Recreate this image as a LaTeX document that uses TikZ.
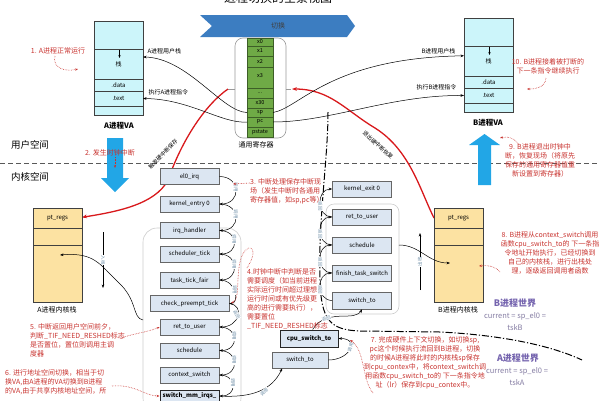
\documentclass[tikz,border=0pt]{standalone}
\usepackage{fontspec}
\setmainfont{Noto Sans CJK SC}
\usetikzlibrary{arrows.meta}

\definecolor{vacyan}{HTML}{CCF5FA}
\definecolor{kyellow}{HTML}{FCE2A2}
\definecolor{reggreen}{HTML}{6FAA46}
\definecolor{boxfill}{HTML}{DCE6F2}
\definecolor{notered}{HTML}{C8332F}
\definecolor{hotred}{HTML}{D8191C}
\definecolor{calltxt}{HTML}{6F8FA8}
\definecolor{bannerblue}{HTML}{3C7DC1}
\definecolor{bigblue}{HTML}{22A6E6}
\definecolor{worldpurple}{HTML}{7463AE}
\definecolor{worldgray}{HTML}{857DA3}

\begin{document}
\begin{tikzpicture}[x=1pt, y=-1pt, font=\fontsize{6}{7}\selectfont,
    vacell/.style={rectangle, draw=black!75, fill=vacyan, line width=0.6pt, minimum width=49pt, inner sep=0pt, outer sep=0pt},
    regcell/.style={rectangle, draw=reggreen!55!black, fill=reggreen, line width=0.4pt, minimum width=26pt, inner sep=0pt, outer sep=0pt, font=\fontsize{5.5}{6}\selectfont},
    kcell/.style={rectangle, draw=black!75, fill=kyellow, line width=0.6pt, minimum width=49pt, inner sep=0pt, outer sep=0pt},
    box/.style={rectangle, draw=black!60, fill=boxfill, line width=0.6pt, minimum width=59pt, minimum height=16pt, inner sep=0pt},
    keybox/.style={box, draw=black!85, line width=1pt, font=\fontsize{6}{7}\selectfont\bfseries},
    note/.style={text=notered, align=left, inner sep=0pt, font=\fontsize{7}{9}\selectfont},
    call/.style={-{Stealth[length=3.5pt]}, black, line width=0.5pt},
    calltext/.style={text=calltxt, font=\fontsize{4.5}{5}\selectfont, inner sep=0.5pt, fill=white},
    hotline/.style={draw=hotred, line width=1.3pt},
    dotarrow/.style={-{Stealth[length=3pt]}, notered, densely dotted, line width=0.6pt},
    vatitle/.style={font=\fontsize{7.5}{9}\selectfont\bfseries},
    world/.style={text=worldpurple, font=\fontsize{9}{10}\selectfont\bfseries},
    worldtext/.style={text=worldgray, align=center, font=\fontsize{7.5}{11.5}\selectfont}
  ]
  \useasboundingbox (0,0) rectangle (600,400);

  % Title and switch banner
  \node[font=\fontsize{12}{14}\selectfont] (title) at (278,-2) {进程切换的全景视图};
  \fill[bannerblue] (200,15) -- (347,15) -- (355,26) -- (347,37) -- (200,37) -- (212,26) -- cycle;
  \node[text=black!75, font=\fontsize{7}{8}\selectfont] (switch) at (278,26) {切换};

  % User / kernel split
  \draw[black!65, line width=0.8pt, dash pattern=on 5pt off 3pt] (0,163) -- (600,163);
  \node[font=\fontsize{9.5}{11}\selectfont] (uspace) at (30,145) {用户空间};
  \node[font=\fontsize{9.5}{11}\selectfont] (kspace) at (30,177) {内核空间};

  % Big blue arrows
  \fill[bigblue] (107,138) -- (123,138) -- (123,178) -- (129,178) -- (115,192) -- (101,178) -- (107,178) -- cycle;
  \fill[bigblue] (478,185) -- (491,185) -- (491,145) -- (500,145) -- (484.5,134) -- (469,145) -- (478,145) -- cycle;

  % Group outlines
  \draw[black!20, line width=0.6pt, rounded corners=14pt] (143,228) rectangle (241,412);
  \draw[black!20, line width=0.6pt, rounded corners=8pt] (326,204) rectangle (399,314);
  \draw[black!40, line width=0.6pt, rounded corners=8pt] (235,38) rectangle (286,138);
  \draw[black!40, line width=0.6pt] (228,89) -- (235,89) (286,89) -- (291,89);

  % Phase boundary
  \draw[black, line width=1pt, dash pattern=on 7pt off 2pt on 1.2pt off 2pt]
    (328,112) .. controls (328,160) and (318,220) .. (320,280) .. controls (321,320) and (330,330) .. (360,331)
    -- (440,332) .. controls (500,335) and (550,345) .. (582,360);

  % Hot red paths (save / restore context)
  \draw[hotline] (228,89) .. controls (205,105) and (182,140) .. (168,180) .. controls (155,205) and (115,212) .. (84,217);
  \draw[hotred, line width=1.3pt, -{Stealth[length=5pt]}] (84,217) -- (82,217.5);
  \draw[hotline, -{Stealth[length=5pt]}] (434,218) .. controls (420,190) and (410,150) .. (375,128) .. controls (345,110) and (330,89) .. (292,89);
  \node[rotate=45, font=\fontsize{5.5}{6}\selectfont, inner sep=0pt] (savelbl) at (163,154) {触发硬中断保存};
  \node[rotate=-42, font=\fontsize{5.5}{6}\selectfont, inner sep=0pt] (restlbl) at (378,145) {退出硬中断恢复};

  % A process VA
  \node[vacell, minimum height=28pt] (atop) at (118.5,35) {};
  \node[vacell, minimum height=30pt] (astk) at (118.5,64) {};
  \node[vacell, minimum height=12pt] (adat) at (118.5,85) {.data};
  \node[vacell, minimum height=15pt] (atxt) at (118.5,98.5) {.text};
  \node[vacell, minimum height=9pt] (abot) at (118.5,110.5) {};
  \draw[-{Stealth[length=3pt]}] (119.5,50) -- (119.5,58);
  \node (astklbl) at (118.5,64) {\raisebox{-6pt}{栈}};
  \node[vatitle] (ava) at (119,126) {A进程VA};
  \node[anchor=west] (austk) at (144,51) {A进程用户栈};
  \node[anchor=west] (aexec) at (145,92) {执行A进程指令};

  % B process VA
  \node[vacell, minimum height=28pt] (btop) at (488.5,32) {};
  \node[vacell, minimum height=30pt] (bstk) at (488.5,61) {};
  \node[vacell, minimum height=12pt] (bdat) at (488.5,82) {.data};
  \node[vacell, minimum height=15pt] (btxt) at (488.5,95.5) {.text};
  \node[vacell, minimum height=9pt] (bbot) at (488.5,107.5) {};
  \draw[-{Stealth[length=3pt]}] (489.5,47) -- (489.5,55);
  \node (bstklbl) at (488.5,61) {\raisebox{-6pt}{栈}};
  \node[vatitle] (bva) at (488,123) {B进程VA};
  \node[anchor=east] (bustk) at (459,51) {B进程用户栈};
  \node[anchor=east] (bexec) at (460,87) {执行B进程指令};

  % General registers
  \node[regcell, minimum height=8pt] (x0) at (260,42) {x0};
  \node[regcell, minimum height=10pt] (x1) at (260,51) {x1};
  \node[regcell, minimum height=11pt] (x2) at (260,61.5) {x2};
  \node[regcell, minimum height=21pt] (x3) at (260,77.5) {\raisebox{5pt}{x3}};
  \node[regcell, minimum height=10pt] (xdots) at (260,93) {...};
  \node[regcell, minimum height=10pt] (x30) at (260,103) {x30};
  \node[regcell, minimum height=9pt] (sp) at (260,112.5) {sp};
  \node[regcell, minimum height=10pt] (pc) at (260,122) {pc};
  \node[regcell, minimum height=10pt] (pstate) at (260,132) {pstate};
  \node[font=\fontsize{7}{8}\selectfont] (reglbl) at (256,145) {通用寄存器};

  % Register <-> user space
  \draw[call] (sp.west) .. controls (222,112) and (188,58) .. (astk.16);
  \draw[call] (pc.west) .. controls (222,124) and (190,99) .. (atxt.east);
  \draw[call] (sp.east) .. controls (300,108) and (330,58) .. (bstk.168);
  \draw[call] (pc.east) .. controls (330,122) and (390,95) .. (btxt.west);

  % A kernel stack
  \node[kcell, minimum height=20pt] (aregs) at (57.5,218) {pt\_regs};
  \node[kcell, minimum height=17pt] (amid) at (57.5,236.5) {};
  \node[kcell, minimum height=57pt] (alow) at (57.5,273.5) {};
  \node[font=\fontsize{7}{8}\selectfont] (aklbl) at (57,310) {A进程内核栈};
  \draw[call] (103,232) -- node[calltext, rotate=-90] {入栈} (103,288);

  % B kernel stack
  \node[kcell, minimum height=20pt] (bregs) at (458.5,218) {pt\_regs};
  \node[kcell, minimum height=17pt] (bmid) at (458.5,236.5) {};
  \node[kcell, minimum height=57pt] (blow) at (458.5,273.5) {};
  \node[font=\fontsize{7}{8}\selectfont] (bklbl) at (458,310) {B进程内核栈};
  \draw[call] (420,290) -- node[calltext, rotate=90] {出栈} (420,233);

  % Interrupt path (left column)
  \node[box] (el0) at (189.5,176.5) {el0\_irq};
  \node[box] (kentry) at (189.5,204) {kernel\_entry 0};
  \node[box] (irqh) at (189.5,230.5) {irq\_handler};
  \node[box] (stick) at (189.5,254) {scheduler\_tick};
  \node[box] (ttfair) at (189.5,280) {task\_tick\_fair};
  \node[box, minimum width=79pt] (cpt) at (189.5,303.5) {check\_preempt\_tick};
  \node[box] (aret) at (189.5,327) {ret\_to\_user};
  \node[box, minimum height=15pt] (asched) at (189.5,350.5) {schedule};
  \node[box] (actx) at (189.5,375) {context\_switch};
  \node[keybox, minimum height=12pt] (swmm) at (189.5,396) {switch\_mm\_irqs\_};

  % Switch in the middle
  \node[keybox, minimum width=58pt, minimum height=17pt] (cpusw) at (309,338.5) {cpu\_switch\_to};
  \node[box, minimum width=56pt] (aswto) at (300,360) {switch\_to};

  % Return path (right column)
  \node[box] (kexit) at (362,189) {kernel\_exit 0};
  \node[box] (bret) at (362,217) {ret\_to\_user};
  \node[box] (bsched) at (362,245) {schedule};
  \node[box] (finish) at (362,273) {finish\_task\_switch};
  \node[box, minimum height=17pt] (bswto) at (362,300.5) {switch\_to};

  % Calls, left column
  \draw[call] (el0.east) .. controls +(22,0) and +(22,0) .. node[calltext, rotate=-90, pos=0.5, xshift=-3pt] {调用} (kentry.east);
  \draw[call] (kentry.east) .. controls +(22,0) and +(22,0) .. node[calltext, rotate=-90, xshift=-3pt] {调用} (irqh.east);
  \draw[call] (irqh.east) .. controls +(20,0) and +(20,0) .. node[calltext, rotate=-90, xshift=-3pt] {调用} (stick.east);
  \draw[call] (stick.east) .. controls +(20,0) and +(20,0) .. node[calltext, rotate=-90, xshift=-3pt] {调用} (ttfair.east);
  \draw[call] (ttfair.east) .. controls +(18,0) and +(10,0) .. node[calltext, rotate=-90, xshift=-2pt] {调用} (cpt.east);
  \draw[call] (cpt.east) .. controls +(16,2) and +(20,0) .. node[calltext, rotate=-60, xshift=-2pt] {返回} (aret.east);
  \draw[call] (aret.east) .. controls +(20,0) and +(20,0) .. node[calltext, rotate=-90, xshift=-3pt] {调用} (asched.east);
  \draw[call] (asched.east) .. controls +(20,0) and +(20,0) .. node[calltext, rotate=-90, xshift=-3pt] {调用} (actx.east);
  \draw[call] (actx.east) .. controls +(18,0) and +(18,0) .. node[calltext, rotate=-90, xshift=-3pt] {调用} (swmm.east);
  \draw[call] (swmm.east) .. controls (252,398) and (272,390) .. node[calltext, rotate=40, pos=0.55, yshift=-3pt] {调用} (aswto.-155);
  \draw[call] (aswto.east) .. controls +(22,0) and +(22,0) .. node[calltext, rotate=70, xshift=2pt] {调用} (cpusw.east);
  \draw[call] (cpusw.68) .. controls (320,318) and (330,316) .. node[calltext, rotate=20] {返回} (348,316) .. controls (356,316) and (360,313) .. (bswto.south);

  % Returns, right column
  \draw[call] (bswto.west) .. controls +(-16,0) and +(-16,0) .. node[calltext, rotate=-90, xshift=3pt] {返回} (finish.west);
  \draw[call] (finish.west) .. controls +(-16,0) and +(-16,0) .. node[calltext, rotate=-90, xshift=3pt] {返回} (bsched.west);
  \draw[call] (bsched.west) .. controls +(-16,0) and +(-16,0) .. node[calltext, rotate=-90, xshift=3pt] {返回} (bret.west);
  \draw[call] (bret.west) .. controls +(-16,0) and +(-16,0) .. node[calltext, rotate=-90, xshift=3pt] {返回} (kexit.west);

  % Into / out of the kernel stacks
  \coordinate (agrp) at (143,320);
  \coordinate (bgrp) at (399,245);
  \draw[call] (agrp) .. controls (132,318) and (138,300) .. (118,282) .. controls (100,265) and (95,252) .. (60,255);
  \draw[call] (bgrp) .. controls (420,245) and (428,263) .. (450,263);

  % Notes
  \node[note] (n1) at (58,51) {1. A进程正常运行};
  \draw[dotarrow] (55,56) .. controls (52,68) and (65,72) .. (78,69);
  \node[note] (n2) at (110,153) {2. 发生时钟中断};
  \draw[dotarrow] (115,157) -- (115,168);
  \node[note, anchor=north west] (n3) at (250,178) {3. 中断处理保存中断现\\场（发生中断时各通用\\寄存器值，如sp,pc等）};
  \draw[dotarrow] (n3.north west) ++(0,5) -- (233,184);
  \node[note, anchor=north west] (n4) at (247,268) {4.时钟中断中判断是否\\需要调度（如当前进程\\实际运行时间超过理想\\运行时间或有优先级更\\高的进行需要执行），\\需要置位\\\_TIF\_NEED\_RESHED标志};
  \draw[dotarrow] (n4.north west) .. controls (262,245) and (245,240) .. (240,262) .. controls (236,280) and (240,300) .. (231,303);
  \node[note, anchor=north west] (n5) at (30,323) {5. 中断返回用户空间前夕，\\判断\_TIF\_NEED\_RESHED标志\\是否置位，置位则调用主调\\度器};
  \draw[dotarrow] (121,338) .. controls (135,333) and (145,333) .. (aret.west);
  \node[note, anchor=north west] (n6) at (5,369) {6. 进行地址空间切换，相当于切\\换VA,由A进程的VA切换到B进程\\的VA,由于共享内核地址空间，所};
  \draw[dotarrow] (112,386) .. controls (135,384) and (145,396) .. (swmm.west);
  \node[note, align=center, anchor=north] (n7) at (425,336) {7. 完成硬件上下文切换，如切换sp,\\pc这个时候执行流回到B进程，切换\\的时候A进程将此时的内核栈sp保存\\到cpu\_contex中，将context\_switch调\\用函数cpu\_switch\_to的 下一条指令地\\址（lr）保存到cpu\_contex中。};
  \draw[dotarrow] (373,393) .. controls (362,380) and (365,350) .. (350,340);
  \node[note, align=center, anchor=north] (n8) at (550,232) {8. B进程从context\_switch调用\\函数cpu\_switch\_to的 下一条指\\令地址开始执行，已经切换到\\自己的内核栈，进行出栈处\\理，逐级返回调用者函数};
  \draw[dotarrow] (500,272) .. controls (495,266) and (488,265) .. (479,266);
  \node[note, align=center, anchor=north] (n9) at (540,143) {9. B进程退出时钟中\\断，恢复现场（将原先\\保存的通用寄存器值重\\新设置到寄存器）};
  \draw[dotarrow] (519,145) .. controls (515,138) and (508,136) .. (500,138);
  \node[note, align=center, anchor=north] (n10) at (548,58) {10. B进程接着被打断的\\下一条指令继续执行};
  \draw[dotarrow] (546,78) .. controls (545,88) and (535,89) .. (527,89);

  % Worlds
  \node[world] (bworld) at (515,303) {B进程世界};
  \node[worldtext, anchor=north] (bcur) at (515,309) {current = sp\_el0 =\\tskB};
  \node[world] (aworld) at (518,358) {A进程世界};
  \node[worldtext, anchor=north] (acur) at (517,364) {current = sp\_el0 =\\tskA};
\end{tikzpicture}
\end{document}
